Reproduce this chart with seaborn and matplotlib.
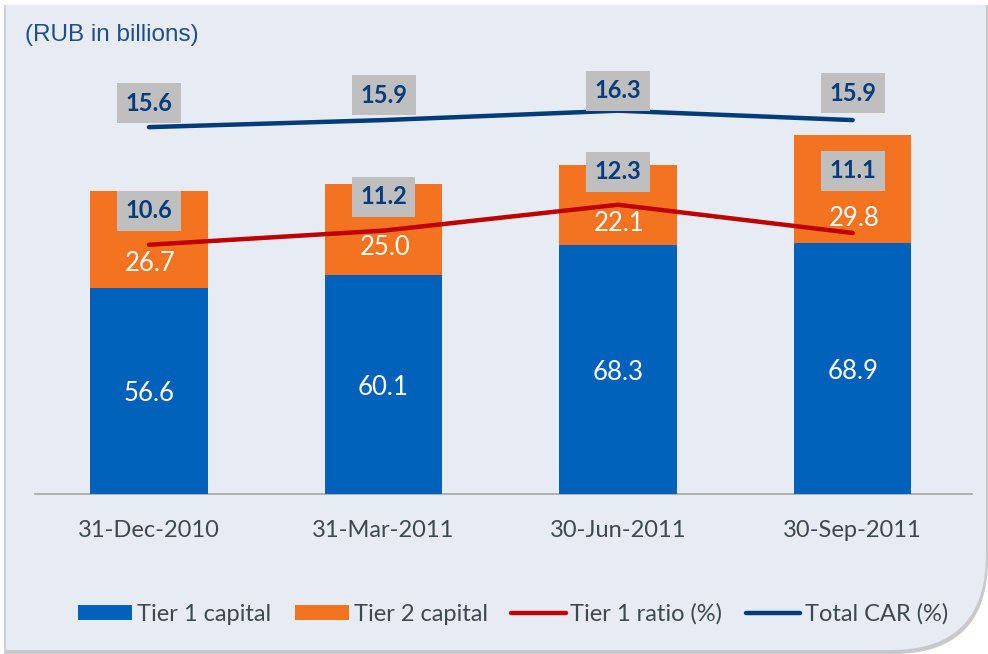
import numpy as np
import matplotlib
matplotlib.use("Agg")
import matplotlib.pyplot as plt
import seaborn as sns
import pandas as pd
from matplotlib.patches import FancyBboxPatch, Rectangle, Patch
from matplotlib.lines import Line2D

dates = ["31-Dec-2010", "31-Mar-2011", "30-Jun-2011", "30-Sep-2011"]
tier1_capital = [56.6, 60.1, 68.3, 68.9]
tier2_capital = [26.7, 25.0, 22.1, 29.8]
tier1_ratio = [10.6, 11.2, 12.3, 11.1]
total_car = [15.6, 15.9, 16.3, 15.9]

BLUE = "#0061BB"
ORANGE = "#F37321"
RED = "#C00000"
NAVY = "#003B7C"
BG = "#E7EBF2"
TXT = "#3D4851"

sns.set_style("white")
plt.rcParams["font.family"] = ["Lato", "DejaVu Sans"]

df = pd.DataFrame({"date": dates, "t1": tier1_capital, "t2": tier2_capital})
df["total"] = df["t1"] + df["t2"]

fig = plt.figure(figsize=(9.88, 6.54), dpi=100)
fig.patch.set_facecolor("white")

# panel background with rounded lower-right corner and a soft shadow
fig.patches.append(FancyBboxPatch((-300, 0), 1288, 1000, boxstyle="round,pad=0,rounding_size=95",
                                  transform=None, fc="#C8C8C8", ec="none", zorder=-3))
fig.patches.append(FancyBboxPatch((-300, 4), 1286, 1000, boxstyle="round,pad=0,rounding_size=95",
                                  transform=None, fc=BG, ec="none", zorder=-2))
fig.patches.append(Rectangle((0, 649), 990, 10, transform=None, fc="white", ec="none", zorder=-1))
fig.patches.append(Rectangle((0, 0), 5, 649, transform=None, fc="white", ec="none", zorder=-1))
fig.patches.append(Rectangle((4, 0), 1.5, 649, transform=None, fc="#D0D0D0", ec="none", zorder=-1))

ax = fig.add_axes([0.0354, 0.2446, 0.948, 0.668])
ax.set_facecolor("none")

sns.barplot(data=df, x="date", y="total", color=ORANGE, width=0.5, saturation=1, ax=ax,
            linewidth=0, edgecolor="none", zorder=2)
sns.barplot(data=df, x="date", y="t1", color=BLUE, width=0.5, saturation=1, ax=ax,
            linewidth=0, edgecolor="none", zorder=3)

ax.set_xlim(-0.486, 3.507)
ax.set_ylim(0, 120)
ax.set_xlabel("")
ax.set_ylabel("")
ax.set_yticks([])
for s in ["top", "right", "left"]:
    ax.spines[s].set_visible(False)
ax.spines["bottom"].set_color("#A6A6A6")
ax.spines["bottom"].set_linewidth(1.2)
ax.tick_params(axis="x", length=0, pad=19, labelsize=17, labelcolor=TXT)

ax2 = ax.twinx()
ax2.set_ylim(0, 120 / 6.46)
ax2.set_yticks([])
for s in ax2.spines.values():
    s.set_visible(False)
xs = np.arange(len(dates))
sns.lineplot(x=xs, y=tier1_ratio, color=RED, linewidth=3.2, ax=ax2, solid_capstyle="round", zorder=4)
sns.lineplot(x=xs, y=total_car, color=NAVY, linewidth=3.2, ax=ax2, solid_capstyle="round", zorder=4)

# value labels inside bars
orange_off = [27, 30, 24, 27]
for i in range(len(dates)):
    ax.annotate(f"{tier1_capital[i]:.1f}", (i, tier1_capital[i] / 2), ha="center", va="center_baseline",
                color="white", fontsize=18.5, zorder=5)
    ax.annotate(f"{tier2_capital[i]:.1f}", (i, tier1_capital[i]), xytext=(1, orange_off[i] * 0.72),
                textcoords="offset points", ha="center", va="center_baseline", color="white",
                fontsize=18.5, zorder=5)

box = dict(boxstyle="square,pad=0.36", fc="#BFBFBF", ec="none")
car_off = [24, 25, 20, 27]
t1_off = [34, 34, 33, 62]
for i in range(len(dates)):
    ax2.annotate(f"{total_car[i]:.1f}", (i, total_car[i]), xytext=(0, car_off[i] * 0.72),
                 textcoords="offset points", ha="center", va="center", color=NAVY,
                 fontsize=17, fontweight="bold", bbox=box, zorder=6)
    ax2.annotate(f"{tier1_ratio[i]:.1f}", (i, tier1_ratio[i]), xytext=(0, t1_off[i] * 0.72),
                 textcoords="offset points", ha="center", va="center", color=NAVY,
                 fontsize=17, fontweight="bold", bbox=box, zorder=6)

fig.text(25 / 988, 1 - 35 / 654, "(RUB in billions)", ha="left", va="center", color="#1F4E8C",
         fontsize=17.5, family="Liberation Sans")

handles = [Patch(fc=BLUE, ec="none"), Patch(fc=ORANGE, ec="none"),
           Line2D([], [], color=RED, lw=3.2, solid_capstyle="round"),
           Line2D([], [], color=NAVY, lw=3.2, solid_capstyle="round")]
labels = ["Tier 1 capital", "Tier 2 capital", "Tier 1 ratio (%)", "Total CAR (%)"]
leg = fig.legend(handles, labels, loc="center", bbox_to_anchor=(513 / 988, 1 - 614 / 654), ncol=4,
                 frameon=False, fontsize=17, handlelength=2.3, handleheight=0.65,
                 handletextpad=0.2, columnspacing=1.0, labelcolor=TXT)

fig.savefig("out.png", dpi=100, facecolor=fig.get_facecolor())
